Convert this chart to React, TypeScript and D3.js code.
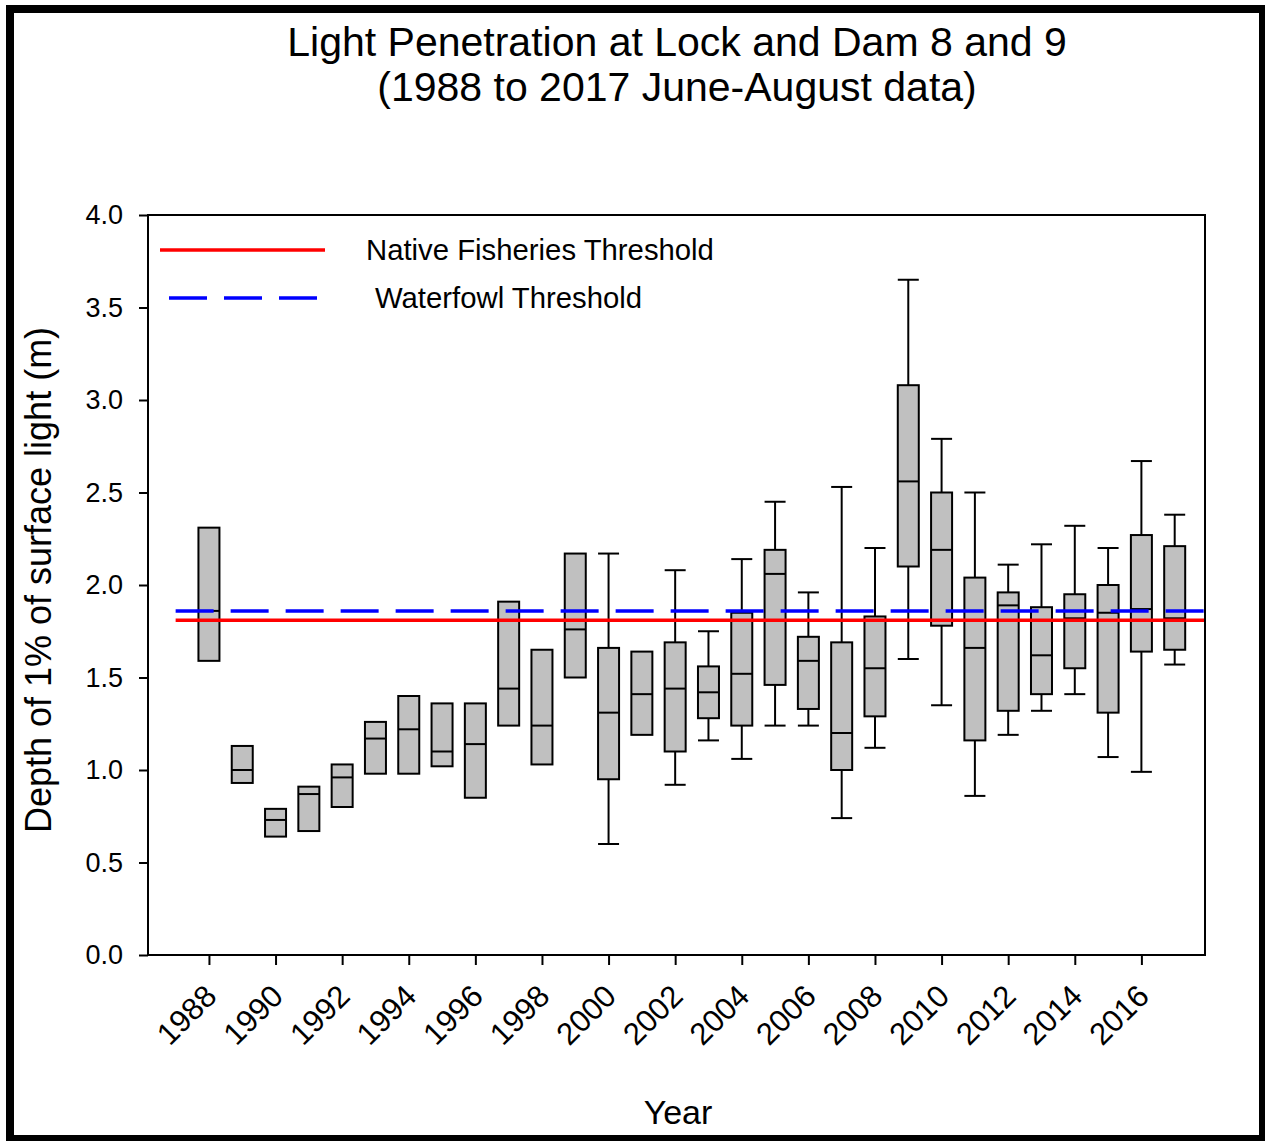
import { useEffect, useRef } from 'react';
import * as d3 from 'd3';

const years = d3.range(1988, 2018);
// box quartiles (m)
const q1 = [1.59, 0.93, 0.64, 0.67, 0.80, 0.98, 0.98, 1.02, 0.85, 1.24, 1.03, 1.50, 0.95, 1.19, 1.10, 1.28, 1.24, 1.46, 1.33, 1.00, 1.29, 2.10, 1.78, 1.16, 1.32, 1.41, 1.55, 1.31, 1.64, 1.65];
const medians = [1.86, 1.00, 0.73, 0.87, 0.96, 1.17, 1.22, 1.10, 1.14, 1.44, 1.24, 1.76, 1.31, 1.41, 1.44, 1.42, 1.52, 2.06, 1.59, 1.20, 1.55, 2.56, 2.19, 1.66, 1.89, 1.62, 1.82, 1.85, 1.87, 1.82];
const q3 = [2.31, 1.13, 0.79, 0.91, 1.03, 1.26, 1.40, 1.36, 1.36, 1.91, 1.65, 2.17, 1.66, 1.64, 1.69, 1.56, 1.85, 2.19, 1.72, 1.69, 1.83, 3.08, 2.50, 2.04, 1.96, 1.88, 1.95, 2.00, 2.27, 2.21];
// whisker ends (null = no whiskers drawn)
const whiskerLow = [null, null, null, null, null, null, null, null, null, null, null, null, 0.60, null, 0.92, 1.16, 1.06, 1.24, 1.24, 0.74, 1.12, 1.60, 1.35, 0.86, 1.19, 1.32, 1.41, 1.07, 0.99, 1.57];
const whiskerHigh = [null, null, null, null, null, null, null, null, null, null, null, null, 2.17, null, 2.08, 1.75, 2.14, 2.45, 1.96, 2.53, 2.20, 3.65, 2.79, 2.50, 2.11, 2.22, 2.32, 2.20, 2.67, 2.38];

const yTicks = [0, 0.5, 1, 1.5, 2, 2.5, 3, 3.5, 4];
const xTicks = d3.range(1988, 2017, 2);

const nativeThreshold = 1.81;
const waterfowlThreshold = 1.86;

const W = 1265;
const H = 1141;
const FONT = '"Liberation Sans", Arial, sans-serif';

export default function App() {
  const svgRef = useRef<SVGSVGElement>(null);

  useEffect(() => {
    if (!svgRef.current) return;
    const svg = d3.select(svgRef.current);
    svg.selectAll('*').remove();

    const left = 148, right = 1205, top = 215, bottom = 955;

    const x = d3.scaleLinear().domain([1986.17, 2017.91]).range([left, right]);
    const y = d3.scaleLinear().domain([0, 4]).range([bottom, top]);
    const boxW = 21;

    svg.append('rect')
      .attr('width', W).attr('height', H).attr('fill', 'white');

    // outer frame
    svg.append('rect')
      .attr('x', 10).attr('y', 9)
      .attr('width', 1253).attr('height', 1130)
      .attr('fill', 'none').attr('stroke', 'black').attr('stroke-width', 8);

    // title
    const title = svg.append('text')
      .attr('text-anchor', 'middle')
      .attr('font-family', FONT).attr('font-size', 41);
    title.append('tspan').attr('x', 677).attr('y', 56).text('Light Penetration at Lock and Dam 8 and 9');
    title.append('tspan').attr('x', 677).attr('y', 101).text('(1988 to 2017 June-August data)');

    // boxes
    const g = svg.append('g');
    years.forEach((yr, i) => {
      const cx = x(yr);
      const lo = whiskerLow[i];
      const hi = whiskerHigh[i];
      if (hi != null) {
        g.append('line').attr('x1', cx).attr('x2', cx).attr('y1', y(hi)).attr('y2', y(q3[i]))
          .attr('stroke', 'black').attr('stroke-width', 2);
        g.append('line').attr('x1', cx - boxW / 2).attr('x2', cx + boxW / 2).attr('y1', y(hi)).attr('y2', y(hi))
          .attr('stroke', 'black').attr('stroke-width', 2);
      }
      if (lo != null) {
        g.append('line').attr('x1', cx).attr('x2', cx).attr('y1', y(q1[i])).attr('y2', y(lo))
          .attr('stroke', 'black').attr('stroke-width', 2);
        g.append('line').attr('x1', cx - boxW / 2).attr('x2', cx + boxW / 2).attr('y1', y(lo)).attr('y2', y(lo))
          .attr('stroke', 'black').attr('stroke-width', 2);
      }
      g.append('rect')
        .attr('x', cx - boxW / 2).attr('y', y(q3[i]))
        .attr('width', boxW).attr('height', y(q1[i]) - y(q3[i]))
        .attr('fill', '#c0c0c0').attr('stroke', 'black').attr('stroke-width', 2);
      g.append('line')
        .attr('x1', cx - boxW / 2).attr('x2', cx + boxW / 2)
        .attr('y1', y(medians[i])).attr('y2', y(medians[i]))
        .attr('stroke', 'black').attr('stroke-width', 2);
    });

    // threshold lines
    svg.append('line')
      .attr('x1', x(1987)).attr('x2', right)
      .attr('y1', y(waterfowlThreshold)).attr('y2', y(waterfowlThreshold))
      .attr('stroke', '#0000ff').attr('stroke-width', 3.5).attr('stroke-dasharray', '38,17');
    svg.append('line')
      .attr('x1', x(1987)).attr('x2', right)
      .attr('y1', y(nativeThreshold)).attr('y2', y(nativeThreshold))
      .attr('stroke', '#ff0000').attr('stroke-width', 3.5);

    // plot frame
    svg.append('rect')
      .attr('x', left).attr('y', top)
      .attr('width', right - left).attr('height', bottom - top)
      .attr('fill', 'none').attr('stroke', 'black').attr('stroke-width', 2);

    // y axis
    const yAxis = svg.append('g')
      .attr('transform', `translate(${left},0)`)
      .call(d3.axisLeft(y).tickValues(yTicks).tickFormat(d3.format('.1f')).tickSize(9).tickSizeOuter(0).tickPadding(16));
    yAxis.select('.domain').remove();
    yAxis.selectAll('line').attr('stroke', 'black').attr('stroke-width', 2);
    yAxis.selectAll('text')
      .attr('font-family', FONT).attr('font-size', 27).attr('fill', 'black');

    // x axis
    const xAxis = svg.append('g')
      .attr('transform', `translate(0,${bottom})`)
      .call(d3.axisBottom(x).tickValues(xTicks).tickFormat(d3.format('d')).tickSize(10).tickSizeOuter(0));
    xAxis.select('.domain').remove();
    xAxis.selectAll('line').attr('stroke', 'black').attr('stroke-width', 2);
    xAxis.selectAll('text')
      .attr('font-family', FONT).attr('font-size', 31).attr('fill', 'black')
      .attr('text-anchor', 'end')
      .attr('y', 0).attr('dy', 0)
      .attr('transform', 'translate(9,43) rotate(-45)');

    // axis titles
    svg.append('text')
      .attr('x', 678).attr('y', 1124)
      .attr('text-anchor', 'middle')
      .attr('font-family', FONT).attr('font-size', 34)
      .text('Year');
    svg.append('text')
      .attr('transform', 'translate(51,580) rotate(-90)')
      .attr('text-anchor', 'middle')
      .attr('font-family', FONT).attr('font-size', 36)
      .text('Depth of 1% of surface light (m)');

    // legend
    svg.append('line')
      .attr('x1', 160).attr('x2', 325).attr('y1', 250).attr('y2', 250)
      .attr('stroke', '#ff0000').attr('stroke-width', 3.5);
    svg.append('text')
      .attr('x', 366).attr('y', 260)
      .attr('font-family', FONT).attr('font-size', 29.3)
      .text('Native Fisheries Threshold');
    svg.append('line')
      .attr('x1', 169).attr('x2', 318).attr('y1', 298).attr('y2', 298)
      .attr('stroke', '#0000ff').attr('stroke-width', 3.5).attr('stroke-dasharray', '38,17');
    svg.append('text')
      .attr('x', 375).attr('y', 308)
      .attr('font-family', FONT).attr('font-size', 29.3)
      .text('Waterfowl Threshold');
  }, []);

  return (
    <svg
      ref={svgRef}
      width={W}
      height={H}
      style={{ position: 'absolute', left: 0, top: 0, display: 'block' }}
    />
  );
}
